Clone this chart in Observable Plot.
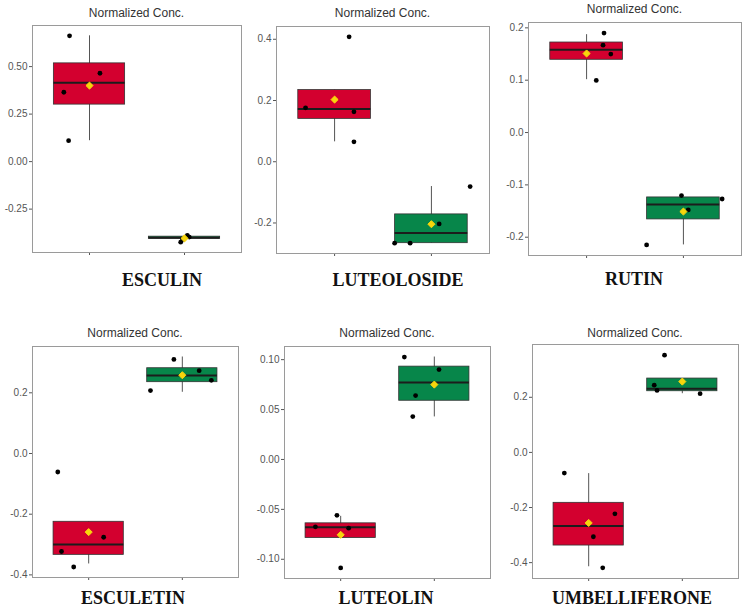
<!DOCTYPE html>
<html>
<head>
<meta charset="utf-8">
<script src="https://cdn.jsdelivr.net/npm/d3@7"></script>
<script src="https://cdn.jsdelivr.net/npm/@observablehq/plot@0.6"></script>
<style>
  html, body { margin: 0; padding: 0; background: #fff; }
  #wrap { position: relative; width: 745px; height: 608px; overflow: hidden; }
  .panel { position: absolute; }
  .ttl { position: absolute; transform: translate(-50%, -50%); font-family: "Liberation Sans", Arial, sans-serif; font-size: 12px; color: #333; white-space: nowrap; }
  .lbl { position: absolute; transform: translate(-50%, -50%); font-family: "Liberation Serif", "Times New Roman", serif; font-weight: bold; font-size: 18px; color: #111; white-space: nowrap; }
</style>
</head>
<body>
<div id="wrap"></div>
<script>
// ---- data ----
const compounds = ["ESCULIN", "LUTEOLOSIDE", "RUTIN", "ESCULETIN", "LUTEOLIN", "UMBELLIFERONE"];
const panelTitle = "Normalized Conc.";

// individual samples (group 1 = red, group 2 = green)
const redValues = [
  [0.662, 0.465, 0.365, 0.11],
  [0.408, 0.176, 0.163, 0.065],
  [0.19, 0.167, 0.15, 0.0995],
  [-0.061, -0.276, -0.323, -0.374],
  [-0.056, -0.0675, -0.0688, -0.1087],
  [-0.0751, -0.223, -0.306, -0.419]
];
const redJitter = [
  [-0.21, 0.11, -0.27, -0.22],
  [0.15, -0.30, 0.2, 0.2],
  [0.18, 0.17, 0.25, 0.1],
  [-0.33, 0.16, -0.29, -0.16],
  [-0.04, -0.27, 0.085, 0.0],
  [-0.26, 0.28, 0.05, 0.15]
];
const greenValues = [
  [-0.388, -0.397, -0.41, -0.424],
  [-0.081, -0.203, -0.266, -0.266],
  [-0.1205, -0.127, -0.1478, -0.2147],
  [0.31, 0.273, 0.241, 0.2075],
  [0.1026, 0.09, 0.064, 0.043],
  [0.353, 0.244, 0.225, 0.213]
];
const greenJitter = [
  [0.03, 0.05, -0.02, -0.04],
  [0.4, 0.08, -0.38, -0.22],
  [-0.02, 0.4, 0.05, -0.38],
  [-0.09, 0.18, 0.31, -0.34],
  [-0.32, 0.05, -0.2, -0.23],
  [-0.19, -0.3, -0.27, 0.19]
];

// box statistics: [whiskerLow, q1, median, q3, whiskerHigh, mean]
const redBox = [
  [0.11, 0.30, 0.415, 0.517, 0.662, 0.40],
  [0.065, 0.14, 0.172, 0.234, 0.234, 0.203],
  [0.101, 0.139, 0.158, 0.172, 0.187, 0.151],
  [-0.364, -0.334, -0.30, -0.225, -0.225, -0.259],
  [-0.0787, -0.0787, -0.068, -0.064, -0.057, -0.0755],
  [-0.415, -0.338, -0.267, -0.183, -0.077, -0.256]
];
const greenBox = [
  [-0.407, -0.406, -0.401, -0.395, -0.395, -0.404],
  [-0.266, -0.266, -0.2325, -0.172, -0.081, -0.204],
  [-0.2147, -0.166, -0.1377, -0.124, -0.124, -0.151],
  [0.2017, 0.235, 0.257, 0.281, 0.318, 0.258],
  [0.0426, 0.0588, 0.077, 0.093, 0.1026, 0.075],
  [0.213, 0.222, 0.231, 0.268, 0.268, 0.257]
];

// y tick values and decimals per panel
const yTicks = [
  [0.5, 0.25, 0, -0.25],
  [0.4, 0.2, 0, -0.2],
  [0.2, 0.1, 0, -0.1, -0.2],
  [0.2, 0, -0.2, -0.4],
  [0.1, 0.05, 0, -0.05, -0.1],
  [0.2, 0, -0.2, -0.4]
];
const yDecimals = [2, 1, 1, 1, 2, 1];

// ---- layout (frame edges in page pixels, label centers) ----
const frames = [
  {L: 32, R: 241, T: 25, B: 252, ty: 13, lx: 162, ly: 280},
  {L: 276, R: 489, T: 26, B: 253, ty: 13, lx: 398, ly: 280},
  {L: 528, R: 741, T: 22, B: 255, ty: 9, lx: 634, ly: 279},
  {L: 32, R: 238, T: 346, B: 577, ty: 333, lx: 133, ly: 598},
  {L: 284, R: 490, T: 346, B: 578, ty: 333, lx: 386, ly: 598},
  {L: 532, R: 738, T: 344, B: 578, ty: 333, lx: 632, ly: 598}
];

const RED = "#d3002f";
const GREEN = "#07864a";
const YELLOW = "#f7d50c";
const HALF = 0.375;

const wrap = document.getElementById("wrap");
const mL = 34, mT = 3, mR = 3, mB = 10;

compounds.forEach((name, i) => {
  const f = frames[i];
  const boxes = [
    {g: 1, color: RED, s: redBox[i]},
    {g: 2, color: GREEN, s: greenBox[i]}
  ].map(b => ({g: b.g, color: b.color, wl: b.s[0], q1: b.s[1], med: b.s[2], q3: b.s[3], wh: b.s[4], mean: b.s[5]}));
  const pts = [
    ...redValues[i].map((v, k) => ({g: 1, v, j: redJitter[i][k]})),
    ...greenValues[i].map((v, k) => ({g: 2, v, j: greenJitter[i][k]}))
  ];
  const allY = [...pts.map(p => p.v), ...boxes.flatMap(b => [b.wl, b.wh])];
  const [lo, hi] = d3.extent(allY);
  const pad = (hi - lo) * 0.05;
  const dec = yDecimals[i];

  const chart = Plot.plot({
    width: f.R - f.L + mL + mR,
    height: f.B - f.T + mT + mB,
    marginLeft: mL, marginRight: mR, marginTop: mT, marginBottom: mB,
    style: {fontFamily: "'Liberation Sans', Arial, sans-serif", fontSize: "10px", color: "#555", background: "transparent", overflow: "visible"},
    x: {domain: [0.4, 2.6], ticks: [1, 2], tickFormat: () => "", tickSize: 3, label: null, line: true},
    y: {domain: [lo - pad, hi + pad], ticks: yTicks[i], tickFormat: d => d.toFixed(dec), tickSize: 3, tickPadding: 2, label: null, line: true},
    marks: [
      Plot.frame({stroke: "#9a9a9a", strokeWidth: 1}),
      Plot.ruleX(boxes, {x: "g", y1: "wl", y2: "wh", stroke: "#555", strokeWidth: 1}),
      Plot.rect(boxes, {x1: d => d.g - HALF, x2: d => d.g + HALF, y1: "q1", y2: "q3", fill: "color", stroke: "#333", strokeWidth: 0.8}),
      Plot.ruleY(boxes, {y: "med", x1: d => d.g - HALF, x2: d => d.g + HALF, stroke: "#1c1c1c", strokeWidth: 2}),
      Plot.dot(pts, {x: d => d.g + d.j, y: "v", r: 2.4, fill: "#000", stroke: "none"}),
      Plot.dot(boxes, {x: "g", y: "mean", symbol: "diamond2", r: 3.2, fill: YELLOW, stroke: YELLOW, strokeWidth: 1, strokeLinejoin: "round"})
    ]
  });

  const holder = document.createElement("div");
  holder.className = "panel";
  holder.style.left = (f.L - mL) + "px";
  holder.style.top = (f.T - mT) + "px";
  holder.appendChild(chart);
  wrap.appendChild(holder);

  const t = document.createElement("div");
  t.className = "ttl";
  t.textContent = panelTitle;
  t.style.left = ((f.L + f.R) / 2) + "px";
  t.style.top = f.ty + "px";
  wrap.appendChild(t);

  const l = document.createElement("div");
  l.className = "lbl";
  l.textContent = name;
  l.style.left = f.lx + "px";
  l.style.top = f.ly + "px";
  wrap.appendChild(l);
});
</script>
</body>
</html>
